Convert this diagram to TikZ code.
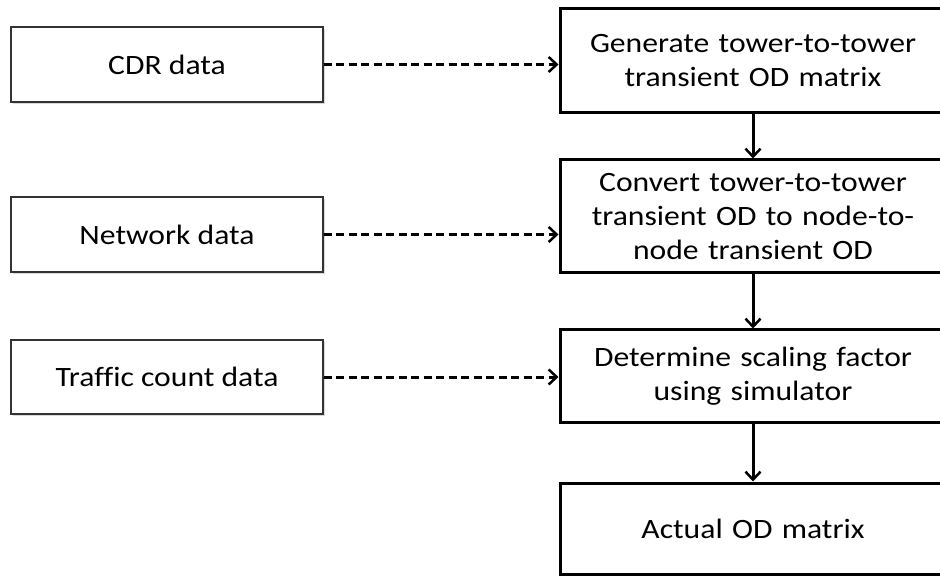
\documentclass[tikz,border=0pt]{standalone}
\usepackage{fontspec}
\setmainfont{Carlito}[FakeStretch=1.13,Ligatures=NoCommon]
\usetikzlibrary{arrows.meta}
\begin{document}
\begin{tikzpicture}[x=1pt,y=-1pt,
  srcbox/.style={draw=black!80,line width=1.3pt,fill=white,minimum width=312pt,minimum height=75pt,inner sep=0pt,
    font=\fontsize{28}{34}\selectfont,align=center},
  stepbox/.style={draw=black,line width=3pt,fill=white,minimum width=386pt,inner sep=0pt,
    font=\fontsize{28}{34}\selectfont,align=center,text width=380pt},
  flow/.style={line width=3pt,-{Straight Barb[length=8pt,width=15pt,line width=2.5pt]}},
  feed/.style={line width=3pt,dash pattern=on 8pt off 4.5pt,-{Straight Barb[length=8pt,width=15pt,line width=2.5pt]}}
]
\useasboundingbox (0,0) rectangle (940,577);
\clip (0,0) rectangle (940,577);
\fill[white] (0,0) rectangle (940,577);
% shadows of source boxes
\foreach \yy/\hh in {64.5/75,234.5/75,377/74}{
  \fill[black!15] (13,\yy-\hh/2+2) rectangle (325,\yy+\hh/2+2);
}
\node[srcbox] (cdr) at (167,64.5) {CDR data};
\node[srcbox] (net) at (167,234.5) {Network data};
\node[srcbox,minimum height=74pt] (tcd) at (167,377) {Traffic count data};

\node[stepbox,minimum height=104pt] (gen) at (753,61) {Generate tower-to-tower\\transient OD matrix};
\node[stepbox,minimum height=113pt] (conv) at (753,216.5) {Convert tower-to-tower\\transient OD to node-to-\\node transient OD};
\node[stepbox,minimum height=92pt] (det) at (753,376) {Determine scaling factor\\using simulator};
\node[stepbox,minimum height=91pt] (act) at (753,528.5) {Actual OD matrix};

\draw[feed] (cdr.east) -- (cdr.east -| gen.west);
\draw[feed] (net.east) -- (net.east -| conv.west);
\draw[feed] (tcd.east) -- (tcd.east -| det.west);

\draw[flow] (gen.south) -- (conv.north);
\draw[flow] (conv.south) -- (det.north);
\draw[flow] (det.south) -- (act.north);
\end{tikzpicture}
\end{document}
